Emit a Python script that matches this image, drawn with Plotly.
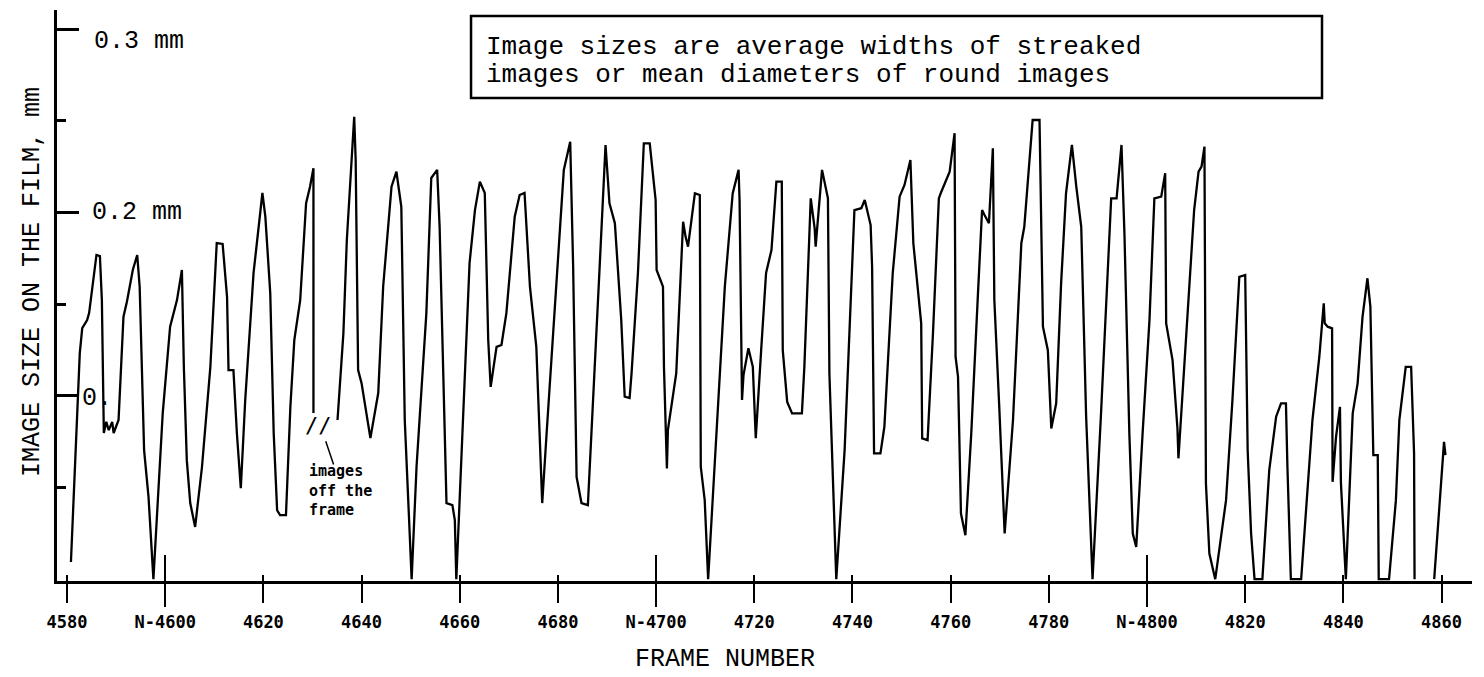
import plotly.graph_objects as go

# ---- data (frame number, image size in mm) ----
frames_a = [4580.8, 4581.7, 4582.6, 4583.1, 4584.1, 4584.5, 4585.4, 4586.0, 4586.7, 4587.1,
            4587.5, 4588.0, 4588.5, 4589.2, 4589.5, 4590.5, 4591.5, 4592.2, 4593.4, 4594.3,
            4594.8, 4595.7, 4596.6, 4597.6, 4599.5, 4601.0, 4602.4, 4603.4, 4603.8, 4604.4,
            4605.1, 4606.1, 4607.5, 4609.2, 4610.5, 4611.7, 4612.6, 4612.9, 4613.9, 4614.6,
            4615.4, 4616.3, 4618.0, 4619.8, 4620.4, 4621.4, 4622.1, 4622.8, 4623.4, 4624.6,
            4625.5, 4626.3, 4627.5, 4628.7, 4629.5, 4630.2, 4630.2]
sizes_a = [0.0094, 0.0687, 0.1233, 0.1369, 0.1413, 0.1451, 0.1648, 0.1768, 0.1762, 0.1522,
           0.0797, 0.0858, 0.0813, 0.0858, 0.0797, 0.0868, 0.1431, 0.1513, 0.1686, 0.1768,
           0.1595, 0.0704, 0.0449, 0.0000, 0.0906, 0.1377, 0.1522, 0.1686, 0.1158, 0.0649,
           0.0415, 0.0285, 0.0613, 0.1158, 0.1833, 0.1828, 0.1540, 0.1140, 0.1140, 0.0797,
           0.0496, 0.0977, 0.1670, 0.2106, 0.1977, 0.1560, 0.0797, 0.0376, 0.0349, 0.0349,
           0.0940, 0.1304, 0.1522, 0.2050, 0.2140, 0.2241, 0.0906]

frames_b = [4635.1, 4636.3, 4637.0, 4638.5, 4638.8, 4639.3, 4640.0, 4641.0, 4641.8, 4643.4,
            4644.4, 4646.1, 4647.1, 4648.1, 4648.8, 4649.8, 4650.2, 4651.2, 4653.2, 4654.2,
            4655.4, 4655.9, 4657.3, 4658.5, 4659.0, 4659.3, 4660.7, 4662.0, 4663.1, 4664.1,
            4665.1, 4665.8, 4666.3, 4667.5, 4668.5, 4669.5, 4671.2, 4672.2, 4673.2, 4674.3,
            4675.6, 4676.8, 4677.7, 4679.7, 4681.2, 4682.5, 4683.1, 4683.8, 4684.8, 4686.1,
            4687.1, 4688.5, 4689.7, 4690.5, 4691.6, 4692.9, 4693.6, 4694.6, 4695.0, 4696.3,
            4697.5, 4698.7, 4699.9, 4700.1, 4701.4, 4701.6, 4702.2, 4702.4, 4704.1, 4705.5,
            4706.0, 4706.5, 4707.9, 4708.9, 4709.1, 4709.9, 4710.6, 4712.3, 4714.0, 4715.6,
            4716.8, 4717.0, 4717.5, 4717.8, 4718.8, 4719.7, 4720.3, 4721.4, 4722.4, 4723.5,
            4724.5, 4725.6, 4725.8, 4726.7, 4727.7, 4729.7, 4730.2, 4731.5, 4732.3, 4732.5,
            4733.8, 4735.0, 4735.3, 4736.7, 4738.4, 4740.4, 4741.8, 4742.5, 4743.7, 4744.0,
            4744.4, 4745.7, 4746.5, 4748.2, 4749.6, 4750.6, 4751.8, 4752.4, 4754.0, 4754.2,
            4755.3, 4756.4, 4757.6, 4758.1, 4759.8, 4760.8, 4761.0, 4761.5, 4762.1, 4763.0,
            4764.2, 4765.5, 4766.4, 4766.9, 4767.8, 4768.6, 4768.9, 4769.9, 4771.0, 4772.7,
            4774.4, 4775.0, 4776.7, 4778.1, 4778.8, 4779.8, 4780.5, 4781.5, 4782.5, 4783.5,
            4784.7, 4785.6, 4786.6, 4787.6, 4788.9, 4790.6, 4792.7, 4793.8, 4794.8, 4795.4,
            4796.4, 4797.1, 4797.8, 4799.1, 4800.5, 4801.5, 4802.9, 4803.7, 4803.9, 4805.2,
            4806.2, 4806.4, 4808.0, 4809.6, 4810.5, 4811.1, 4811.7, 4812.0, 4812.7, 4813.9,
            4816.1, 4817.4, 4818.8, 4820.0, 4820.5, 4821.2, 4821.9, 4823.5, 4824.9, 4826.3,
            4827.3, 4828.3, 4828.6, 4829.3, 4831.4, 4832.7, 4833.7, 4835.1, 4836.0, 4836.2,
            4836.8, 4837.7, 4837.8, 4838.5, 4839.3, 4839.5, 4840.2, 4840.5, 4841.9, 4842.9,
            4843.9, 4844.9, 4845.5, 4846.1, 4847.0, 4847.2, 4849.3, 4850.7, 4851.4, 4852.7,
            4853.8, 4854.4, 4854.5]
sizes_b = [0.0868, 0.1342, 0.1850, 0.2522, 0.2286, 0.1140, 0.1069, 0.0906, 0.0769, 0.1015,
           0.1595, 0.2140, 0.2222, 0.2031, 0.0868, 0.0251, 0.0000, 0.0613, 0.1451, 0.2188,
           0.2232, 0.1922, 0.0415, 0.0404, 0.0322, 0.0000, 0.0868, 0.1724, 0.2013, 0.2168,
           0.2106, 0.1304, 0.1049, 0.1267, 0.1277, 0.1451, 0.1977, 0.2095, 0.2106, 0.1595,
           0.1267, 0.0415, 0.0797, 0.1595, 0.2232, 0.2386, 0.1704, 0.0558, 0.0415, 0.0404,
           0.0977, 0.1704, 0.2368, 0.2050, 0.1941, 0.1413, 0.0995, 0.0988, 0.1122, 0.1670,
           0.2377, 0.2377, 0.2068, 0.1686, 0.1595, 0.1158, 0.0604, 0.0813, 0.1122, 0.1949,
           0.1868, 0.1813, 0.2104, 0.2095, 0.0613, 0.0431, 0.0000, 0.0797, 0.1595, 0.2104,
           0.2232, 0.2068, 0.0977, 0.1113, 0.1259, 0.1158, 0.0769, 0.1249, 0.1670, 0.1795,
           0.2168, 0.2168, 0.1249, 0.0967, 0.0904, 0.0904, 0.1158, 0.2077, 0.1913, 0.1813,
           0.2232, 0.2077, 0.1122, 0.0000, 0.0704, 0.2013, 0.2023, 0.2068, 0.1931, 0.1704,
           0.0686, 0.0686, 0.0831, 0.1668, 0.2086, 0.2150, 0.2286, 0.1832, 0.1395, 0.0768,
           0.0758, 0.1341, 0.2077, 0.2113, 0.2222, 0.2432, 0.1213, 0.1104, 0.0358, 0.0240,
           0.0795, 0.1522, 0.2013, 0.1986, 0.1941, 0.2350, 0.1522, 0.0940, 0.0249, 0.0868,
           0.1832, 0.1922, 0.2504, 0.2504, 0.1377, 0.1249, 0.0822, 0.0959, 0.1613, 0.2104,
           0.2368, 0.2140, 0.1922, 0.0886, 0.0000, 0.0886, 0.2077, 0.2077, 0.2368, 0.1886,
           0.0795, 0.0249, 0.0176, 0.0795, 0.1413, 0.2077, 0.2086, 0.2214, 0.1395, 0.1195,
           0.0822, 0.0659, 0.1341, 0.2013, 0.2222, 0.2250, 0.2359, 0.0522, 0.0140, 0.0000,
           0.0431, 0.0977, 0.1649, 0.1659, 0.0704, 0.0249, 0.0000, 0.0000, 0.0595, 0.0886,
           0.0959, 0.0959, 0.0613, 0.0000, 0.0000, 0.0524, 0.0868, 0.1213, 0.1504, 0.1395,
           0.1377, 0.1368, 0.0531, 0.0776, 0.0940, 0.0524, 0.0158, 0.0000, 0.0904, 0.1068,
           0.1431, 0.1641, 0.1486, 0.0677, 0.0677, 0.0000, 0.0000, 0.0431, 0.0868, 0.1158,
           0.1158, 0.0686, 0.0000]

frames_c = [4858.5, 4860.5, 4860.8]
sizes_c = [0.0000, 0.0749, 0.0677]

tick_frames = [4580, 4600, 4620, 4640, 4660, 4680, 4700, 4720, 4740, 4760, 4780, 4800, 4820, 4840, 4860]
tick_labels = ["4580", "N-4600", "4620", "4640", "4660", "4680", "N-4700", "4720", "4740",
               "4760", "4780", "N-4800", "4820", "4840", "4860"]
n_ticks = [4600, 4700, 4800]
size_major_ticks = [0.1, 0.2, 0.3]
size_minor_ticks = [0.05, 0.15, 0.25]
size_labels = ["0.", "0.2 mm", "0.3 mm"]
size_label_levels = [0.0987, 0.1997, 0.2930]

x = frames_a + [None] + frames_b + [None] + frames_c
y = sizes_a + [None] + sizes_b + [None] + sizes_c

TYPE = "Liberation Mono"
DOT = "DejaVu Sans Mono"
XR = [4577.96, 4866.2]

fig = go.Figure()
fig.add_trace(go.Scatter(x=x, y=y, mode="lines", connectgaps=False,
                         line=dict(color="black", width=2.3), hoverinfo="skip",
                         showlegend=False))
for ax in ["x2", "x3", "x4"]:
    fig.add_trace(go.Scatter(x=[XR[0], XR[1]], y=[None, None], xaxis=ax, mode="lines",
                             showlegend=False, hoverinfo="skip"))

common = dict(showgrid=False, zeroline=False, automargin=False)
# the page body adds an 8px offset, so the figure is 8px smaller and margins compensate
fig.update_layout(
    width=1476, height=669,
    margin=dict(l=49, r=12, t=2, b=96, autoexpand=False),
    paper_bgcolor="white", plot_bgcolor="white",
    xaxis=dict(range=XR, tickvals=tick_frames, ticktext=tick_labels,
               ticks="outside", ticklen=19, tickwidth=2, tickcolor="black",
               showline=True, linecolor="black", linewidth=3,
               tickfont=dict(family=DOT, size=17, color="black", weight="bold"),
               ticklabelstandoff=5, **common),
    xaxis2=dict(range=XR, overlaying="x", anchor="y", tickvals=tick_frames,
                ticks="inside", ticklen=6, tickwidth=2, tickcolor="black",
                showticklabels=False, showline=False, **common),
    xaxis3=dict(range=XR, overlaying="x", anchor="y", tickvals=n_ticks,
                ticks="inside", ticklen=26, tickwidth=2, tickcolor="black",
                showticklabels=False, showline=False, **common),
    xaxis4=dict(range=XR, overlaying="x", anchor="y", tickvals=n_ticks,
                ticks="outside", ticklen=25, tickwidth=2, tickcolor="black",
                showticklabels=False, showline=False, **common),
    yaxis=dict(range=[-0.001, 0.3104], tickvals=size_major_ticks,
               ticks="inside", ticklen=22, tickwidth=2.5, tickcolor="black",
               showticklabels=False,
               minor=dict(tickvals=size_minor_ticks, ticks="inside", ticklen=9,
                          tickwidth=2.5, tickcolor="black"),
               showline=True, linecolor="black", linewidth=3, **common),
)

ann_font = dict(family=TYPE, size=25, color="black")
for lab, lev, lx in zip(size_labels, size_label_levels, [0.0162, 0.0233, 0.0247]):
    fig.add_annotation(xref="paper", yref="y", x=lx, y=lev, text=lab, showarrow=False,
                       font=ann_font, xanchor="left", yanchor="middle")
fig.add_annotation(xref="paper", yref="paper", x=-0.0177, y=0.5236,
                   text="IMAGE SIZE ON THE FILM, mm", textangle=-90, showarrow=False,
                   font=ann_font, xanchor="center", yanchor="middle")
fig.add_annotation(xref="paper", yref="paper", x=0.472, y=-0.138,
                   text="FRAME NUMBER", showarrow=False, font=ann_font,
                   xanchor="center", yanchor="middle")
fig.add_shape(type="rect", xref="paper", yref="paper", x0=0.2926, x1=0.894,
              y0=0.8459, y1=0.9895, line=dict(color="black", width=2.5),
              fillcolor="white", layer="above")
box_font = dict(family=TYPE, size=26, color="black")
fig.add_annotation(xref="paper", yref="paper", x=0.3018, y=0.9352,
                   text="Image sizes are average widths of streaked", showarrow=False,
                   font=box_font, xanchor="left", yanchor="middle")
fig.add_annotation(xref="paper", yref="paper", x=0.3018, y=0.8862,
                   text="images or mean diameters of round images", showarrow=False,
                   font=box_font, xanchor="left", yanchor="middle")
fig.add_annotation(x=4628.9, y=0.0486, text="images<br>off the<br>frame", showarrow=False,
                   font=dict(family=DOT, size=15, color="black", weight="bold"),
                   xanchor="left", yanchor="middle", align="left")
fig.add_annotation(x=4631.2, y=0.084, text="//", showarrow=False,
                   font=dict(family=DOT, size=22, color="black"),
                   xanchor="center", yanchor="middle")
fig.add_annotation(x=4634.3, y=0.0625, ax=4632.6, ay=0.076, axref="x", ayref="y",
                   text="", showarrow=True, arrowhead=0, arrowwidth=1.5,
                   arrowcolor="black")

fig.write_html("out.html")
